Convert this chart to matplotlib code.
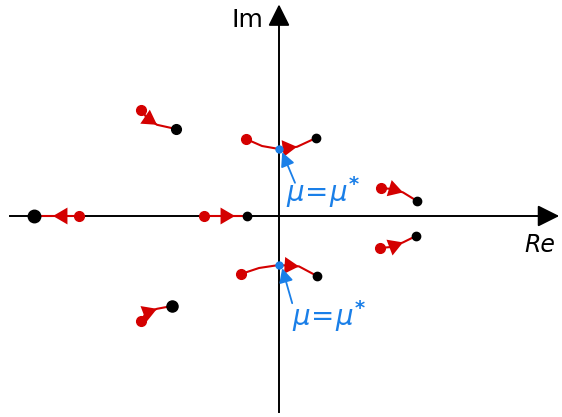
import numpy as np
import matplotlib
matplotlib.use('Agg')
import matplotlib.pyplot as plt

RED = '#d40000'
BLUE = '#1a7fe8'

# root trajectories in the complex plane: each list runs from start (red) to end (black)
traj_re = [
    [-3.45, -3.30, -3.05, -2.575],
    [-3.45, -3.325, -3.05, -2.675],
    [-5.0, -5.65, -6.125],
    [-1.875, -1.1, -0.8],
    [-0.825, -0.425, 0.0, 0.45, 0.925],
    [-0.95, -0.5, 0.0, 0.5, 0.95],
    [2.55, 2.825, 3.1, 3.45],
    [2.525, 2.80, 3.1, 3.425],
]
traj_im = [
    [2.65, 2.45, 2.28, 2.175],
    [-2.625, -2.425, -2.32, -2.25],
    [0.0, 0.0, 0.0],
    [0.0, 0.0, 0.0],
    [1.925, 1.75, 1.675, 1.73, 1.95],
    [-1.45, -1.30, -1.225, -1.26, -1.50],
    [0.70, 0.675, 0.59, 0.375],
    [-0.80, -0.775, -0.66, -0.50],
]
# index of the point where the direction arrowhead sits
arrow_at = [2, 2, 1, 1, 3, 3, 2, 2]
end_size = [7, 8, 9, 6, 6, 6, 6, 6]

# crossings of the imaginary axis at mu = mu*
cross_im = [1.675, -1.225]
label_pos = [(0.18, 0.6), (0.32, -2.5)]
label_tail = [(0.4, 0.83), (0.33, -2.18)]

fig = plt.figure(figsize=(5.62, 4.17), dpi=100)
ax = fig.add_axes([0, 0, 1, 1])
ax.set_xlim(-6.975, 7.075)
ax.set_ylim(-5.025, 5.4)
ax.axis('off')

# axes with arrow heads
ax.plot([-6.725, 6.9], [0, 0], color='black', lw=1.4, zorder=1)
ax.plot([0, 0], [-4.9, 5.0], color='black', lw=1.4, zorder=1)
ax.annotate('', xy=(7.075, 0), xytext=(6.7, 0),
            arrowprops=dict(arrowstyle='-|>,head_length=0.6,head_width=0.3', color='black',
                            lw=1.4, mutation_scale=22))
ax.annotate('', xy=(0, 5.36), xytext=(0, 4.9),
            arrowprops=dict(arrowstyle='-|>,head_length=0.6,head_width=0.3', color='black',
                            lw=1.4, mutation_scale=22))
ax.text(-0.8, 4.9, 'Im', fontsize=18, ha='center', va='center', family='DejaVu Sans')
ax.text(6.53, -0.73, 'Re', fontsize=17, ha='center', va='center', style='italic')

for xs, ys, ai, es in zip(traj_re, traj_im, arrow_at, end_size):
    ax.plot(xs, ys, color=RED, lw=1.5, zorder=2)
    ax.plot(xs[0], ys[0], 'o', color=RED, ms=7, zorder=3)
    ax.plot(xs[-1], ys[-1], 'o', color='black', ms=es, zorder=3)
    ax.annotate('', xy=(xs[ai], ys[ai]), xytext=(xs[ai - 1], ys[ai - 1]),
                arrowprops=dict(arrowstyle='-|>,head_length=0.65,head_width=0.38', color=RED,
                                lw=0, mutation_scale=16, shrinkA=0, shrinkB=0), zorder=3)

for yc, (tx, ty), (ax0, ay0) in zip(cross_im, label_pos, label_tail):
    ax.plot(0, yc, 'o', color=BLUE, ms=5, zorder=4)
    ax.annotate('', xy=(0.08, yc - 0.08), xytext=(ax0, ay0),
                arrowprops=dict(arrowstyle='-|>,head_length=0.6,head_width=0.3', color=BLUE,
                                lw=1.3, mutation_scale=14, shrinkA=0, shrinkB=0))
    ax.text(tx, ty, r'$\mu\!=\!\mu^{\mathbf{*}}$', color=BLUE, fontsize=20,
            ha='left', va='center')

fig.savefig('out.png', dpi=100)
